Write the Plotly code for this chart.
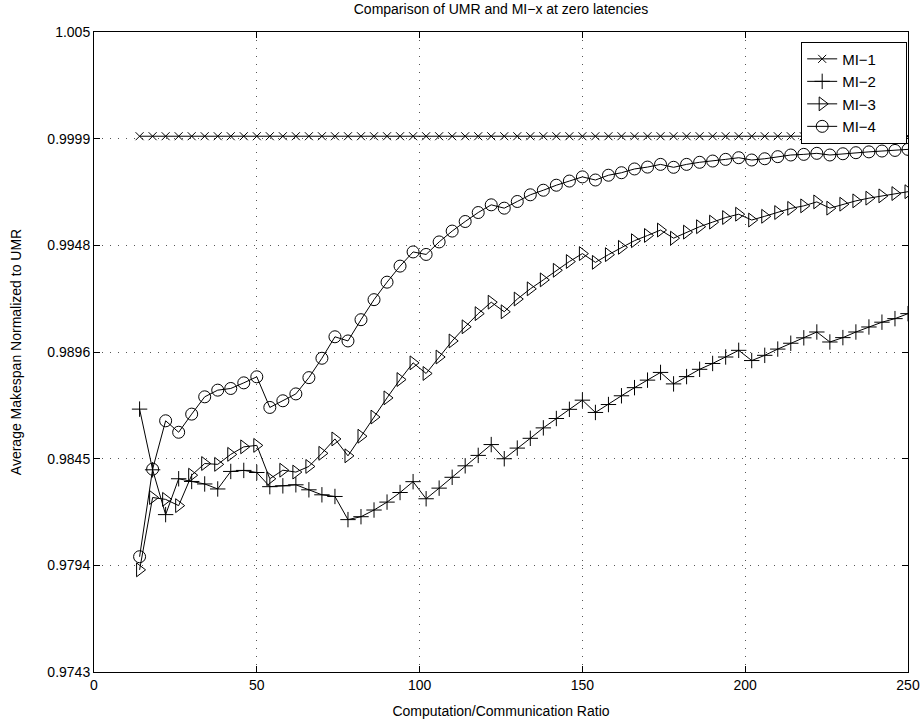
import plotly.graph_objects as go

# Computation/communication ratio (x values of every series)
ratio = [
    14, 18, 22, 26, 30, 34, 38, 42, 46, 50,
    54, 58, 62, 66, 70, 74, 78, 82, 86, 90,
    94, 98, 102, 106, 110, 114, 118, 122, 126, 130,
    134, 138, 142, 146, 150, 154, 158, 162, 166, 170,
    174, 178, 182, 186, 190, 194, 198, 202, 206, 210,
    214, 218, 222, 226, 230, 234, 238, 242, 246, 250,
]

# Average makespan normalized to UMR
mi1 = [
    1.0, 1.0, 1.0, 1.0, 1.0, 1.0, 1.0, 1.0, 1.0, 1.0,
    1.0, 1.0, 1.0, 1.0, 1.0, 1.0, 1.0, 1.0, 1.0, 1.0,
    1.0, 1.0, 1.0, 1.0, 1.0, 1.0, 1.0, 1.0, 1.0, 1.0,
    1.0, 1.0, 1.0, 1.0, 1.0, 1.0, 1.0, 1.0, 1.0, 1.0,
    1.0, 1.0, 1.0, 1.0, 1.0, 1.0, 1.0, 1.0, 1.0, 1.0,
    1.0, 1.0, 1.0, 1.0, 1.0, 1.0, 1.0, 1.0, 1.0, 1.0,
]

mi2 = [
    0.98691, 0.98400, 0.98185, 0.98357, 0.98344, 0.98332, 0.98308, 0.98392, 0.98397, 0.98387,
    0.98319, 0.98323, 0.98328, 0.98304, 0.98280, 0.98272, 0.98161, 0.98175, 0.98207, 0.98245,
    0.98291, 0.98343, 0.98261, 0.98312, 0.98364, 0.98419, 0.98469, 0.98521, 0.98453, 0.98504,
    0.98551, 0.98601, 0.98646, 0.98690, 0.98734, 0.98675, 0.98713, 0.98755, 0.98794, 0.98830,
    0.98867, 0.98812, 0.98847, 0.98882, 0.98910, 0.98941, 0.98973, 0.98924, 0.98949, 0.98979,
    0.99007, 0.99033, 0.99061, 0.99013, 0.99034, 0.99061, 0.99085, 0.99108, 0.99125, 0.99149,
]

mi3 = [
    0.97920, 0.98267, 0.98258, 0.98228, 0.98374, 0.98430, 0.98426, 0.98474, 0.98510, 0.98517,
    0.98357, 0.98398, 0.98389, 0.98416, 0.98479, 0.98548, 0.98467, 0.98561, 0.98653, 0.98745,
    0.98833, 0.98913, 0.98862, 0.98941, 0.99018, 0.99086, 0.99149, 0.99204, 0.99158, 0.99219,
    0.99268, 0.99311, 0.99357, 0.99399, 0.99437, 0.99395, 0.99432, 0.99467, 0.99499, 0.99524,
    0.99550, 0.99511, 0.99540, 0.99566, 0.99588, 0.99610, 0.99626, 0.99598, 0.99616, 0.99634,
    0.99654, 0.99666, 0.99685, 0.99655, 0.99674, 0.99690, 0.99703, 0.99714, 0.99725, 0.99734,
]

mi4 = [
    0.97983, 0.98403, 0.98635, 0.98580, 0.98667, 0.98750, 0.98782, 0.98790, 0.98817, 0.98846,
    0.98699, 0.98731, 0.98764, 0.98842, 0.98935, 0.99038, 0.99018, 0.99120, 0.99216, 0.99300,
    0.99377, 0.99445, 0.99433, 0.99493, 0.99545, 0.99591, 0.99634, 0.99671, 0.99655, 0.99687,
    0.99719, 0.99741, 0.99765, 0.99785, 0.99805, 0.99790, 0.99813, 0.99825, 0.99843, 0.99852,
    0.99865, 0.99851, 0.99865, 0.99875, 0.99881, 0.99889, 0.99897, 0.99886, 0.99892, 0.99902,
    0.99910, 0.99913, 0.99918, 0.99910, 0.99916, 0.99921, 0.99925, 0.99929, 0.99932, 0.99937,
]

series_names = ["MI\u22121", "MI\u22122", "MI\u22123", "MI\u22124"]

x_ticks = [0, 50, 100, 150, 200, 250]
y_ticklabels = ["0.9743", "0.9794", "0.9845", "0.9896", "0.9948", "0.9999", "1.005"]
y_lo, y_hi = 0.9743, 1.005
y_ticks = [y_lo + i * (y_hi - y_lo) / 6 for i in range(7)]

FONT = "Liberation Sans, Arial, Helvetica, sans-serif"
PAD = "\u00a0" * 6  # right-hand padding inside the legend box

styles = [
    dict(symbol="x-thin-open", size=8),
    dict(symbol="cross-thin-open", size=11),
    dict(symbol="triangle-right-open", size=12),
    dict(symbol="circle-open", size=12),
]

fig = go.Figure()
for name, ys, st in zip(series_names, [mi1, mi2, mi3, mi4], styles):
    fig.add_trace(go.Scatter(
        x=ratio, y=ys, name=name + PAD, mode="lines+markers",
        line=dict(color="black", width=1),
        marker=dict(symbol=st["symbol"], size=st["size"], color="black",
                    line=dict(color="black", width=1)),
    ))

axis_common = dict(
    showline=True, linecolor="black", linewidth=1, mirror="ticks",
    ticks="inside", ticklen=6, tickcolor="black", tickwidth=1,
    showgrid=True, gridcolor="#555555", gridwidth=1, griddash="1px,7px",
    zeroline=False, automargin=False,
    tickfont=dict(family=FONT, size=14, color="black"),
)

fig.update_xaxes(
    range=[0, 250], tickvals=x_ticks,
    title=dict(text="Computation/Communication Ratio",
               font=dict(family=FONT, size=14, color="black"), standoff=14),
    **axis_common,
)
fig.update_yaxes(
    range=[y_lo, y_hi], tickvals=y_ticks, ticktext=y_ticklabels,
    title=dict(text="Average Makespan Normalized to UMR",
               font=dict(family=FONT, size=14, color="black"), standoff=22),
    **axis_common,
)

fig.update_layout(
    width=924, height=724,
    margin=dict(l=94, r=16, t=32, b=52),
    paper_bgcolor="white", plot_bgcolor="white",
    font=dict(family=FONT, size=14, color="black"),
    title=dict(text="Comparison of UMR and MI\u2212x at zero latencies",
               x=0.5, xref="paper", y=1 - 9 / 724, yref="container",
               yanchor="middle", font=dict(family=FONT, size=14, color="black")),
    showlegend=True,
    legend=dict(x=0.999, xanchor="right", y=0.985, yanchor="top",
                bgcolor="white", bordercolor="black", borderwidth=1,
                font=dict(family=FONT, size=15, color="black"),
                itemwidth=30, tracegroupgap=0),
)

fig.write_html("out.html")
